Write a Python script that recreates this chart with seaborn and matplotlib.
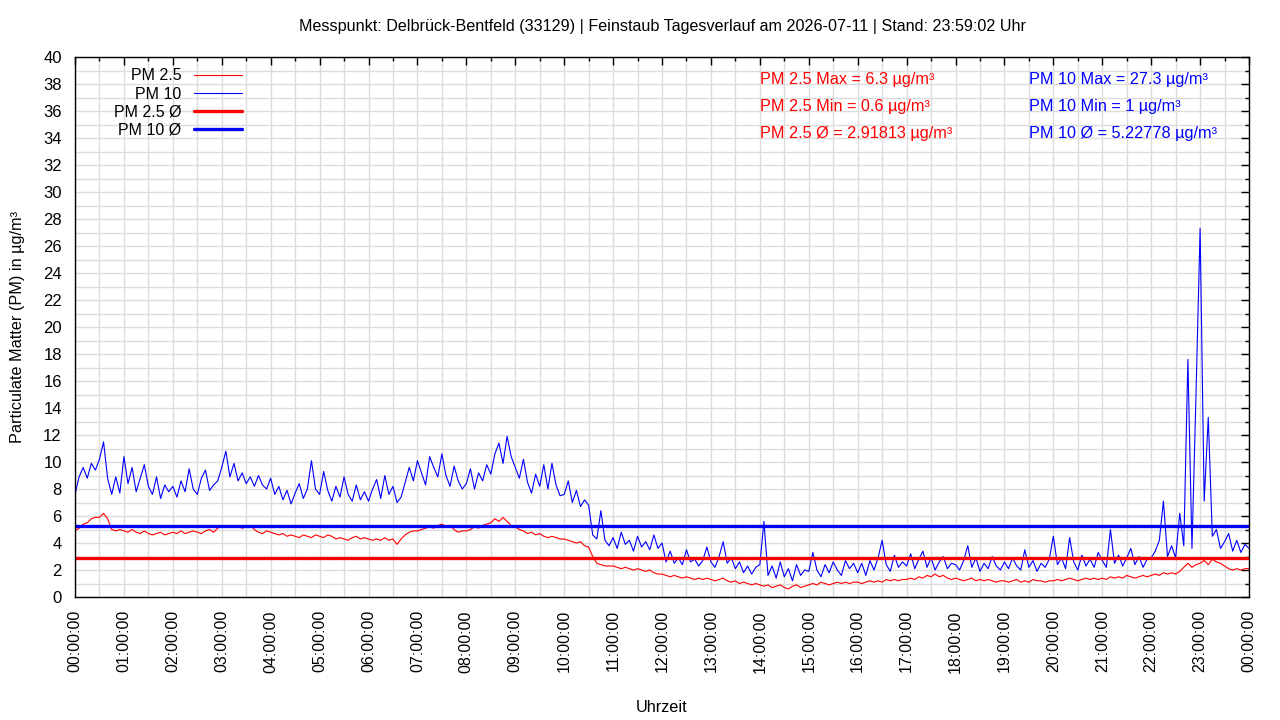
import matplotlib
matplotlib.use("Agg")
import matplotlib.pyplot as plt
import matplotlib.dates as mdates
import numpy as np
import pandas as pd
import seaborn as sns

# 5-minute samples, 00:00 ... 24:00 (one row per hour)
pm10 = [
    7.6, 8.9, 9.6, 8.8, 9.9, 9.4, 10.2, 11.5, 8.8, 7.6, 8.9, 7.7,
    10.4, 8.4, 9.6, 7.8, 8.8, 9.8, 8.2, 7.6, 8.9, 7.3, 8.3, 7.8,
    8.2, 7.4, 8.6, 7.8, 9.5, 8.0, 7.6, 8.8, 9.4, 7.9, 8.3, 8.6,
    9.6, 10.8, 8.9, 9.9, 8.6, 9.2, 8.4, 8.9, 8.2, 9.0, 8.3, 8.0,
    8.8, 7.6, 8.2, 7.2, 7.9, 6.9, 7.7, 8.4, 7.3, 8.0, 10.1, 8.0,
    7.6, 9.3, 7.9, 7.1, 8.2, 7.4, 8.9, 7.6, 7.1, 8.3, 7.2, 7.8,
    7.1, 8.0, 8.7, 7.3, 9.0, 7.6, 8.2, 7.0, 7.4, 8.5, 9.6, 8.6,
    10.1, 9.2, 8.3, 10.4, 9.6, 8.9, 10.6, 9.0, 8.2, 9.7, 8.6, 8.0,
    8.4, 9.5, 8.0, 9.2, 8.6, 9.8, 9.1, 10.6, 11.4, 9.9, 11.9, 10.4,
    9.6, 8.8, 10.2, 8.5, 7.7, 9.1, 8.2, 9.8, 8.0, 9.9, 8.3, 7.5,
    7.6, 8.6, 7.0, 7.9, 6.7, 7.2, 6.8, 4.6, 4.3, 6.4, 4.2, 3.8,
    4.4, 3.6, 4.8, 3.9, 4.2, 3.4, 4.5, 3.7, 4.1, 3.5, 4.6, 3.6,
    4.0, 2.6, 3.4, 2.5, 2.9, 2.4, 3.5, 2.6, 2.8, 2.3, 2.7, 3.7,
    2.6, 2.2, 3.0, 4.1, 2.5, 2.9, 2.1, 2.6, 1.8, 2.3, 1.7, 2.2,
    2.4, 5.6, 1.6, 2.3, 1.4, 2.6, 1.5, 2.1, 1.2, 2.4, 1.6, 2.0,
    1.9, 3.3, 2.0, 1.5, 2.4, 1.8, 2.6, 2.0, 1.6, 2.7, 2.1, 2.5,
    1.8, 2.5, 1.6, 2.7, 2.0, 2.9, 4.2, 2.4, 1.9, 3.1, 2.2, 2.6,
    2.3, 3.2, 2.1, 2.8, 3.4, 2.2, 2.9, 2.0, 2.6, 3.0, 2.1, 2.5,
    2.4, 2.0, 2.7, 3.8, 2.2, 2.9, 1.9, 2.5, 2.1, 3.0, 2.3, 2.0,
    2.6, 2.1, 2.9, 2.3, 2.0, 3.5, 2.2, 2.7, 1.9, 2.5, 2.2, 2.8,
    4.5, 2.4, 2.9, 2.1, 4.4, 2.6, 2.0, 3.1, 2.3, 2.8, 2.2, 3.3,
    2.7, 2.2, 5.0, 2.5, 3.1, 2.3, 2.9, 3.6, 2.4, 3.0, 2.2, 2.8,
    2.9, 3.4, 4.2, 7.1, 3.0, 3.8, 2.9, 6.2, 3.8, 17.6, 3.6, 15.1,
    27.3, 7.1, 13.3, 4.5, 5.0, 3.6, 4.1, 4.7, 3.4, 4.2, 3.3, 3.9,
    3.6,
]
pm25 = [
    4.9, 5.1, 5.4, 5.5, 5.8, 5.9, 5.9, 6.2, 5.8, 5.0, 4.9, 5.0,
    4.9, 4.8, 5.0, 4.8, 4.7, 4.9, 4.7, 4.6, 4.7, 4.8, 4.6, 4.7,
    4.8, 4.7, 4.9, 4.7, 4.8, 4.9, 4.8, 4.7, 4.9, 5.0, 4.8, 5.1,
    5.3, 5.2, 5.3, 5.2, 5.3, 5.1, 5.2, 5.3, 5.0, 4.8, 4.7, 4.9,
    4.8, 4.7, 4.6, 4.7, 4.5, 4.6, 4.5, 4.4, 4.6, 4.5, 4.4, 4.6,
    4.5, 4.4, 4.6, 4.5, 4.3, 4.4, 4.3, 4.2, 4.4, 4.5, 4.3, 4.4,
    4.3, 4.2, 4.3, 4.2, 4.4, 4.2, 4.3, 3.9, 4.3, 4.6, 4.8, 4.9,
    4.9, 5.0, 5.1, 5.2, 5.1, 5.3, 5.4, 5.2, 5.3, 5.0, 4.8, 4.9,
    4.9, 5.0, 5.2, 5.1, 5.3, 5.4, 5.5, 5.8, 5.6, 5.9, 5.6, 5.3,
    5.2, 5.0, 4.9, 4.7, 4.8, 4.6, 4.7, 4.5, 4.4, 4.5, 4.4, 4.3,
    4.3, 4.2, 4.1, 4.0, 4.1, 3.8, 3.7, 3.0, 2.5, 2.4, 2.3, 2.3,
    2.3, 2.2, 2.1, 2.2, 2.1, 2.0, 2.1, 2.0, 1.9, 2.0, 1.8, 1.7,
    1.7, 1.6, 1.5, 1.6, 1.5, 1.4, 1.5, 1.4, 1.3, 1.4, 1.3, 1.4,
    1.3, 1.2, 1.3, 1.4, 1.2, 1.1, 1.2, 1.0, 1.1, 1.0, 0.9, 1.0,
    0.9, 0.8, 0.9, 0.7, 0.8, 0.9, 0.7, 0.6, 0.8, 0.9, 0.7, 0.8,
    0.9, 1.0, 0.9, 1.1, 1.0, 0.9, 1.0, 1.1, 1.0, 1.1, 1.0, 1.1,
    1.1, 1.0, 1.1, 1.2, 1.1, 1.2, 1.1, 1.3, 1.2, 1.3, 1.2, 1.3,
    1.3, 1.4, 1.3, 1.5, 1.4, 1.6, 1.5, 1.7, 1.5, 1.6, 1.4, 1.3,
    1.4, 1.3, 1.2, 1.3, 1.4, 1.2, 1.3, 1.2, 1.3, 1.2, 1.1, 1.2,
    1.2, 1.1, 1.2, 1.3, 1.1, 1.2, 1.1, 1.3, 1.2, 1.2, 1.1, 1.2,
    1.2, 1.3, 1.2, 1.3, 1.4, 1.3, 1.2, 1.3, 1.4, 1.3, 1.4, 1.3,
    1.4, 1.3, 1.5, 1.4, 1.5, 1.4, 1.6, 1.5, 1.4, 1.5, 1.6, 1.5,
    1.6, 1.7, 1.6, 1.8, 1.7, 1.8, 1.7, 1.9, 2.2, 2.5, 2.2, 2.4,
    2.5, 2.7, 2.4, 2.8, 2.6, 2.5, 2.3, 2.1, 2.0, 2.1, 2.0, 2.1,
    2.1,
]
times = pd.date_range("2026-07-11 00:00", periods=len(pm10), freq="5min")

pm25_mean = 2.91813
pm10_mean = 5.22778
pm25_max, pm25_min = 6.3, 0.6
pm10_max, pm10_min = 27.3, 1

df = pd.DataFrame({"time": times, "pm10": pm10, "pm25": pm25})

sns.set_style("white")
plt.rcParams["font.family"] = ["Liberation Sans", "DejaVu Sans"]
plt.rcParams["font.size"] = 11.7
for key in ["text.color", "axes.labelcolor", "xtick.color", "ytick.color", "axes.titlecolor"]:
    plt.rcParams[key] = "black"

fig, ax = plt.subplots(figsize=(12.8, 7.2), dpi=100)
fig.subplots_adjust(left=0.0586, right=0.9758, bottom=0.1708, top=0.9208)

sns.lineplot(data=df, x="time", y="pm25", color="#ff0000", linewidth=0.8, label="PM 2.5", ax=ax)
sns.lineplot(data=df, x="time", y="pm10", color="#0000ff", linewidth=0.8, label="PM 10", ax=ax)
ax.axhline(pm25_mean, color="#ff0000", linewidth=2.4, label="PM 2.5 Ø")
ax.axhline(pm10_mean, color="#0000ff", linewidth=2.4, label="PM 10 Ø")

day0 = pd.Timestamp("2026-07-11 00:00")
ax.set_xlim(day0, day0 + pd.Timedelta(hours=24))
ax.set_ylim(0, 40)

ax.xaxis.set_major_locator(mdates.HourLocator())
ax.xaxis.set_minor_locator(mdates.MinuteLocator(byminute=[30]))
ax.xaxis.set_major_formatter(mdates.DateFormatter("%H:%M:%S"))
ax.set_yticks(np.arange(0, 41, 2))
ax.set_yticks(np.arange(1, 40, 2), minor=True)

ax.grid(True, which="both", color="#dcdcdc", linewidth=1.0)
ax.set_axisbelow(True)
for s in ax.spines.values():
    s.set_color("black")
    s.set_linewidth(1.0)

ax.tick_params(which="both", direction="in", top=True, right=True, colors="black")
ax.tick_params(which="major", length=6, width=1)
ax.tick_params(which="minor", length=3, width=1)
ax.tick_params(axis="x", which="major", labelrotation=90, pad=9.5, labelsize=11.5)
ax.tick_params(axis="y", which="major", pad=9.5, labelsize=12)

ax.set_xlabel("Uhrzeit", fontsize=11.7, labelpad=19.5)
ax.set_ylabel("Particulate Matter (PM) in µg/m³", fontsize=11.7, labelpad=13)
ax.set_title("Messpunkt: Delbrück-Bentfeld (33129) | Feinstaub Tagesverlauf am 2026-07-11 | Stand: 23:59:02 Uhr",
             fontsize=11.6, pad=18.5)

# stats labels
x_red = day0 + pd.Timedelta(hours=14)
x_blue = day0 + pd.Timedelta(hours=19, minutes=30)
ax.text(x_red, 38.35, f"PM 2.5 Max = {pm25_max} µg/m³", color="#ff0000", va="center", fontsize=11.7)
ax.text(x_red, 36.35, f"PM 2.5 Min = {pm25_min} µg/m³", color="#ff0000", va="center", fontsize=11.7)
ax.text(x_red, 34.35, f"PM 2.5 Ø = {pm25_mean} µg/m³", color="#ff0000", va="center", fontsize=11.7)
ax.text(x_blue, 38.35, f"PM 10 Max = {pm10_max} µg/m³", color="#0000ff", va="center", fontsize=11.7)
ax.text(x_blue, 36.35, f"PM 10 Min = {pm10_min} µg/m³", color="#0000ff", va="center", fontsize=11.7)
ax.text(x_blue, 34.35, f"PM 10 Ø = {pm10_mean} µg/m³", color="#0000ff", va="center", fontsize=11.7)

leg = ax.legend(loc="upper right", bbox_to_anchor=(0.1425, 0.979), frameon=False, markerfirst=False,
                handlelength=3.0, handletextpad=0.8, labelspacing=0.2, borderpad=0, borderaxespad=0,
                fontsize=11.5)
# right-align entries like gnuplot keys
for col in leg._legend_handle_box.get_children():
    col.align = "right"

fig.savefig("out.png", dpi=100)
